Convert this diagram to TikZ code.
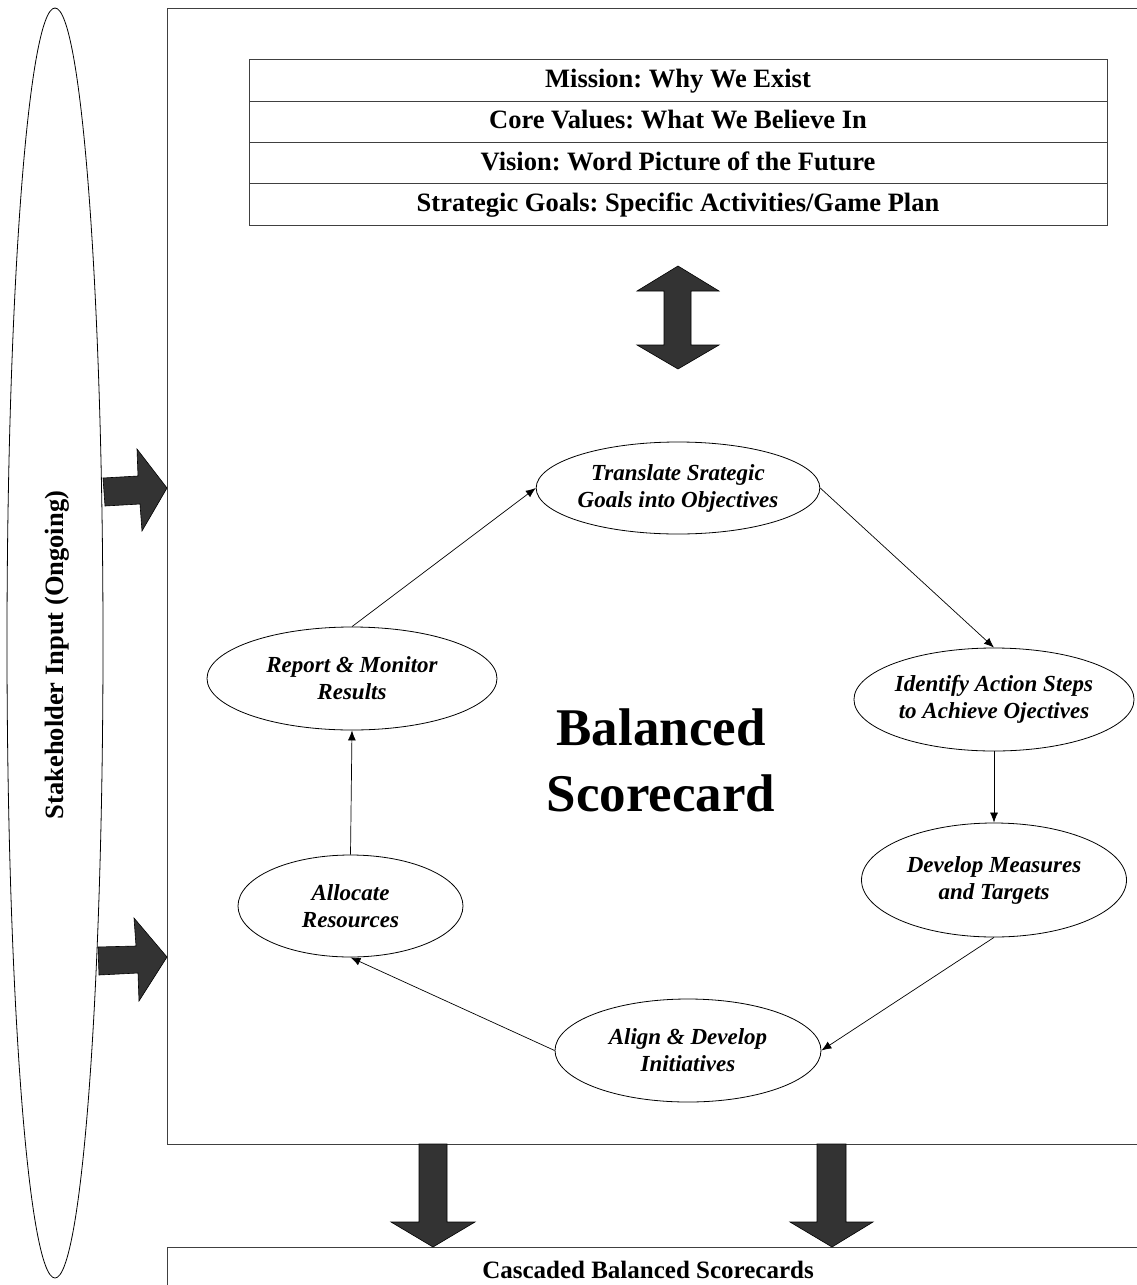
\documentclass[tikz,border=0pt]{standalone}
\usepackage{fontspec}
\setmainfont{Liberation Serif}
\usetikzlibrary{shapes.geometric,arrows.meta}
\begin{document}
\frenchspacing
\begin{tikzpicture}[x=1pt,y=-1pt,
  proc/.style={ellipse,draw=black,line width=0.8pt,inner sep=0pt,align=center,font=\fontsize{23}{27}\selectfont\bfseries\itshape},
  row/.style={rectangle,draw=black!75,line width=1pt,minimum width=858pt,minimum height=41.25pt,inner sep=0pt,text height=18.5pt,text depth=4.5pt,font=\fontsize{26.5}{30}\selectfont\bfseries},
  conn/.style={line width=0.7pt,draw=black,-{Latex[length=10pt,width=8pt]}},
  blk/.style={fill=black!80,draw=black,line width=0.6pt},
  frame/.style={rectangle,draw=black!75,line width=1.1pt,inner sep=0pt},
  bigtxt/.style={font=\fontsize{53}{66}\selectfont\bfseries,inner sep=0pt}]
\useasboundingbox (0,0) rectangle (1136,1285);
% stakeholder ellipse
\node[ellipse,draw=black,line width=0.8pt,minimum width=96pt,minimum height=1270pt,inner sep=0pt] (stake) at (55,643) {};
\node[rotate=90,font=\fontsize{26.5}{30}\selectfont\bfseries,inner sep=0pt] (staketxt) at (57,655) {Stakeholder Input (Ongoing)};
% main frame
\node[frame,minimum width=973pt,minimum height=1136pt,anchor=north west] (main) at (167,8) {};
% bottom box
\node[frame,minimum width=973pt,minimum height=60pt,anchor=north west] (bottom) at (167,1247) {};
\node[font=\fontsize{25}{30}\selectfont\bfseries,inner sep=0pt,anchor=base] (bottomtxt) at (648,1278) {Cascaded Balanced Scorecards};
% table
\node[row] (r1) at (678,80.6) {Mission: Why We Exist};
\node[row] (r2) at (678,121.9) {Core Values: What We Believe In};
\node[row] (r3) at (678,163.1) {Vision: Word Picture of the Future};
\node[row] (r4) at (678,204.4) {Strategic Goals: Specific Activities/Game Plan};
% double arrow
\path[blk] (678,266) -- (719,291) -- (691,291) -- (691,345) -- (719,345) -- (678,369) -- (637,345) -- (664,345) -- (664,291) -- (637,291) -- cycle;
% left block arrows
\path[blk] (103,478) -- (138,476) -- (137,449) -- (167,488) -- (142,531) -- (140,504) -- (105,506) -- cycle;
\path[blk] (98,947) -- (136,946) -- (134,918) -- (167,957) -- (139,1001) -- (138,973) -- (99,975) -- cycle;
% down block arrows
\path[blk] (419,1144) -- (447,1144) -- (447,1222) -- (475,1222) -- (433,1247) -- (391,1222) -- (419,1222) -- cycle;
\path[blk] (817,1144) -- (846,1144) -- (846,1222) -- (873,1222) -- (832,1247) -- (790,1222) -- (817,1222) -- cycle;
% centre title
\node[bigtxt,anchor=base] (bal1) at (661,745) {Balanced};
\node[bigtxt,anchor=base] (bal2) at (661,811) {Scorecard};
% process ellipses
\node[proc,minimum width=260pt,minimum height=92pt] (T) at (678,488) {Translate Srategic\\Goals into Objectives};
\node[proc,minimum width=265pt,minimum height=103pt] (I) at (994,699.5) {Identify Action Steps\\to Achieve Ojectives};
\node[proc,minimum width=265pt,minimum height=114pt] (D) at (994,880) {Develop Measures\\and Targets};
\node[proc,minimum width=266pt,minimum height=103pt] (A) at (688,1050.5) {Align \& Develop\\Initiatives};
\node[proc,minimum width=225pt,minimum height=102pt] (R) at (350.5,906) {Allocate\\Resources};
\node[proc,minimum width=290pt,minimum height=103pt] (M) at (352,678.5) {Report \& Monitor\\Results};
% connectors
\draw[conn] (M.north) -- (T.west);
\draw[conn] (T.east) -- (I.north);
\draw[conn] (I.south) -- (D.north);
\draw[conn] (D.south) -- (A.east);
\draw[conn] (A.west) -- (R.south);
\draw[conn] (R.north) -- (M.south);
\end{tikzpicture}
\end{document}
